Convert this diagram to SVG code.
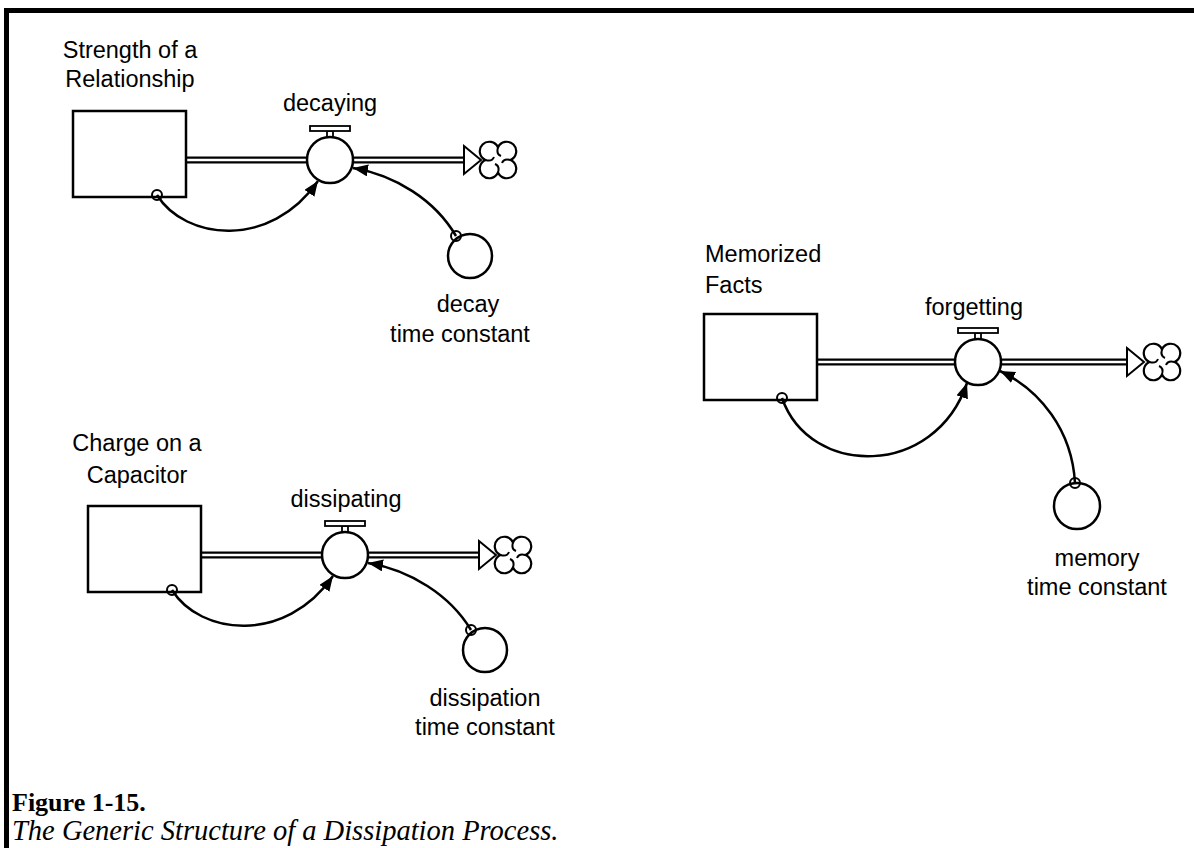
<svg xmlns="http://www.w3.org/2000/svg" width="1194" height="848" viewBox="0 0 1194 848">
<defs>
<style>
.lbl{font-family:"Liberation Sans",Arial,sans-serif;font-size:23.5px;fill:#000;text-anchor:middle}
.lft{text-anchor:start}
.stock{fill:#fff;stroke:#000;stroke-width:2.5}
.pipeo{stroke:#000;stroke-width:7;fill:none}
.pipei{stroke:#fff;stroke-width:2.6;fill:none}
.valve{fill:#fff;stroke:#000;stroke-width:2.5}
.hdl{fill:#fff;stroke:#000;stroke-width:1.8}
.aux{fill:#fff;stroke:#000;stroke-width:2.5}
.src{fill:none;stroke:#000;stroke-width:2}
.conn{fill:none;stroke:#000;stroke-width:2.5;marker-end:url(#ah)}
.arrow{fill:#fff;stroke:#000;stroke-width:2;stroke-linejoin:miter}
.cloud{fill:#fff;stroke:#000;stroke-width:2.2;stroke-linejoin:round}
.swirl{fill:none;stroke:#000;stroke-width:2}
.fig{font-family:"Liberation Serif","Times New Roman",serif;font-weight:bold;font-size:26px}
.cap{font-family:"Liberation Serif","Times New Roman",serif;font-style:italic;font-size:28.5px}
</style>
<marker id="ah" markerUnits="userSpaceOnUse" markerWidth="18" markerHeight="14" refX="15" refY="6" orient="auto">
<path d="M0,0 L15,6 L0,12 Z" fill="#000"/>
</marker>
<g id="cloudShape">
<path class="cloud" d="M0,-12.5 A9.5 9.5 0 1 1 12.5,0 A9.5 9.5 0 1 1 0,12.5 A9.5 9.5 0 1 1 -12.5,0 A9.5 9.5 0 1 1 0,-12.5 Z"/>
<path class="swirl" d="M0,-12.5 Q-2,-6 3,-4 M12.5,0 Q6,-2 4,3 M0,12.5 Q2,6 -3,4 M-12.5,0 Q-6,2 -4,-3"/>
</g>
</defs>
<rect width="1194" height="848" fill="#fff"/>
<path d="M4,10.5 H1194 M6.5,8 V848" stroke="#000" stroke-width="5" fill="none"/>

<g id="pipes">
<path class="pipeo" d="M186,160 H466"/><path class="pipei" d="M183,160 H466"/>
<path class="pipeo" d="M201,555 H481"/><path class="pipei" d="M198,555 H481"/>
<path class="pipeo" d="M817,362 H1129"/><path class="pipei" d="M814,362 H1129"/>
</g>

<g id="stock-strength">
<rect class="stock" x="73" y="111" width="113" height="86"/>
<text class="lbl" x="130" y="58">Strength of a</text>
<text class="lbl" x="130" y="87">Relationship</text>
</g>
<g id="flow-decaying">
<rect class="hdl" x="327" y="131" width="6" height="8"/>
<rect class="hdl" x="310" y="126" width="40" height="5"/>
<circle class="valve" cx="330" cy="160" r="23"/>
<text class="lbl" x="330" y="111">decaying</text>
<path class="arrow" d="M464,146 L481,160 L464,174 Z"/>
</g>
<g id="cloud-1"><use href="#cloudShape" x="498" y="160"/></g>
<g id="aux-decay">
<circle class="aux" cx="470" cy="256" r="22"/>
<text class="lbl" x="468" y="312">decay</text>
<text class="lbl" x="460" y="342">time constant</text>
</g>

<g id="stock-charge">
<rect class="stock" x="88" y="506" width="113" height="86"/>
<text class="lbl" x="137" y="451">Charge on a</text>
<text class="lbl" x="137" y="483">Capacitor</text>
</g>
<g id="flow-dissipating">
<rect class="hdl" x="342" y="526" width="6" height="8"/>
<rect class="hdl" x="325" y="521" width="40" height="5"/>
<circle class="valve" cx="345" cy="555" r="23"/>
<text class="lbl" x="346" y="507">dissipating</text>
<path class="arrow" d="M479,541 L496,555 L479,569 Z"/>
</g>
<g id="cloud-2"><use href="#cloudShape" x="513" y="555"/></g>
<g id="aux-dissipation">
<circle class="aux" cx="485" cy="650" r="22"/>
<text class="lbl" x="485" y="706">dissipation</text>
<text class="lbl" x="485" y="735">time constant</text>
</g>

<g id="stock-memorized">
<rect class="stock" x="704" y="314" width="113" height="86"/>
<text class="lbl lft" x="705" y="262">Memorized</text>
<text class="lbl lft" x="705" y="293">Facts</text>
</g>
<g id="flow-forgetting">
<rect class="hdl" x="975" y="333" width="6" height="8"/>
<rect class="hdl" x="958" y="328" width="40" height="5"/>
<circle class="valve" cx="978" cy="362" r="23"/>
<text class="lbl" x="974" y="315">forgetting</text>
<path class="arrow" d="M1127,348 L1144,362 L1127,376 Z"/>
</g>
<g id="cloud-3"><use href="#cloudShape" x="1162" y="362"/></g>
<g id="aux-memory">
<circle class="aux" cx="1077" cy="506" r="23"/>
<text class="lbl" x="1097" y="566">memory</text>
<text class="lbl" x="1097" y="595">time constant</text>
</g>

<g id="connectors">
<path class="conn" d="M157,195 C185,240 270,250 318,181"/>
<circle class="src" cx="157" cy="195" r="5"/>
<path class="conn" d="M456,236 C435,200 395,175 353,168"/>
<circle class="src" cx="456" cy="236" r="5"/>
<path class="conn" d="M172,590 C200,635 285,645 333,576"/>
<circle class="src" cx="172" cy="590" r="5"/>
<path class="conn" d="M471,630 C450,595 410,570 368,563"/>
<circle class="src" cx="471" cy="630" r="5"/>
<path class="conn" d="M782,398 C810,478 935,478 967,383"/>
<circle class="src" cx="782" cy="398" r="5"/>
<path class="conn" d="M1075,483 C1072,430 1040,390 1000,371"/>
<circle class="src" cx="1075" cy="483" r="5"/>
</g>

<g id="caption">
<text class="fig" x="12" y="811">Figure 1-15.</text>
<text class="cap" x="12" y="840">The Generic Structure of a Dissipation Process.</text>
</g>
</svg>
